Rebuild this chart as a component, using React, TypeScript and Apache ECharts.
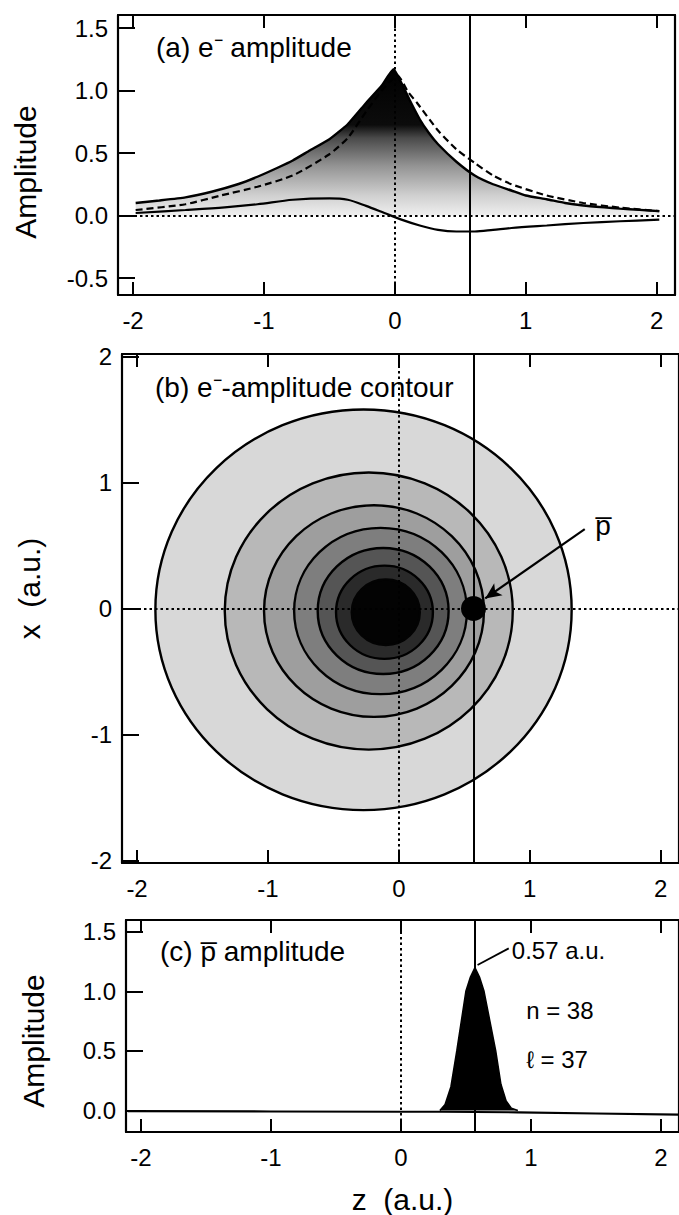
import React, { useEffect, useRef } from "react";
import * as echarts from "echarts";

// ---------- data ----------
const zTicks = [-2, -1, 0, 1, 2];
const ampTicksA = [-0.5, 0, 0.5, 1.0, 1.5];
const xTicksB = [-2, -1, 0, 1, 2];
const ampTicksC = [0, 0.5, 1.0, 1.5];

// panel (a): total e- amplitude envelope (solid, shaded)
const zEnv = [-1.98, -1.8, -1.6, -1.4, -1.2, -1.05, -0.9, -0.78, -0.65, -0.5, -0.36, -0.22, -0.1, -0.01, 0.05, 0.11, 0.19, 0.26, 0.33, 0.47, 0.61, 0.75, 0.89, 1.0, 1.16, 1.3, 1.44, 1.6, 1.72, 1.87, 2.02];
const vEnv = [0.10, 0.12, 0.145, 0.19, 0.25, 0.31, 0.38, 0.44, 0.52, 0.61, 0.73, 0.90, 1.04, 1.17, 1.06, 0.93, 0.77, 0.66, 0.57, 0.43, 0.32, 0.25, 0.20, 0.16, 0.13, 0.10, 0.08, 0.065, 0.055, 0.045, 0.035];
// panel (a): dashed curve
const zDash = [-1.98, -1.6, -1.33, -1.05, -0.78, -0.5, -0.36, -0.22, -0.1, 0.02, 0.1, 0.17, 0.33, 0.47, 0.61, 0.75, 0.89, 1.16, 1.44, 1.72, 2.02];
const vDash = [0.044, 0.09, 0.16, 0.23, 0.32, 0.49, 0.62, 0.83, 1.0, 1.12, 0.99, 0.90, 0.68, 0.53, 0.42, 0.32, 0.25, 0.16, 0.10, 0.063, 0.035];
// panel (a): lower solid curve
const zLow = [-1.98, -1.6, -1.3, -1.05, -0.78, -0.5, -0.36, -0.22, -0.08, 0.05, 0.19, 0.33, 0.47, 0.61, 0.75, 0.89, 1.16, 1.44, 1.72, 2.02];
const vLow = [0.02, 0.044, 0.065, 0.09, 0.126, 0.137, 0.126, 0.077, 0.02, -0.033, -0.08, -0.115, -0.128, -0.128, -0.115, -0.10, -0.08, -0.06, -0.046, -0.033];

// panel (b): contour rings (centre z, centre x, radius), outer to inner
const ringZ = [-0.27, -0.23, -0.19, -0.14, -0.12, -0.11, -0.1];
const ringX = [-0.01, -0.02, -0.02, -0.02, -0.02, -0.03, -0.03];
const ringR = [1.59, 1.10, 0.84, 0.66, 0.50, 0.37, 0.26];
const ringShade = ["#d8d8d8", "#b8b8b8", "#9e9e9e", "#7e7e7e", "#555555", "#2a2a2a", "#030303"];
const pbarPos = [0.57, 0];
const pbarLabelPos = [1.56, 0.66];
const arrowFrom = [1.42, 0.63];
const arrowTo = [0.66, 0.08];

// panel (c): pbar amplitude (baseline + peak)
const zBase = [-2.1, -1.0, 0.0, 0.3, 0.9, 1.5, 2.14];
const vBase = [-0.005, -0.008, -0.01, -0.01, -0.015, -0.025, -0.035];
const zPeak = [0.3, 0.34, 0.385, 0.43, 0.465, 0.5, 0.535, 0.57, 0.605, 0.64, 0.685, 0.73, 0.77, 0.81, 0.85, 0.9];
const vPeak = [0.0, 0.05, 0.2, 0.5, 0.75, 1.0, 1.12, 1.2, 1.12, 1.0, 0.75, 0.5, 0.22, 0.08, 0.02, 0.0];
const peakZ = 0.57;
const leaderFrom = [0.59, 1.22];
const leaderTo = [0.83, 1.36];
const annoTextC = ["0.57 a.u.", "n = 38", "\u2113 = 37"];
const annoZC = [0.85, 0.96, 0.96];
const annoYC = [1.34, 0.84, 0.43];

// ---------- style helpers ----------
const FONT = "'Liberation Sans', Arial, Helvetica, sans-serif";
const X_MIN = -2.115;
const X_MAX = 2.14;
const BLACK = "#000";

function xAxes(gridIndex: number, name?: string) {
  const base = {
    gridIndex,
    type: "value",
    min: X_MIN,
    max: X_MAX,
    splitLine: { show: false },
    axisLine: { show: true, onZero: false, lineStyle: { color: BLACK, width: 2.2 } },
    axisTick: { show: true, inside: true, length: 13, customValues: zTicks, lineStyle: { color: BLACK, width: 2 } },
  };
  return [
    {
      ...base,
      position: "bottom",
      name: name || "",
      nameLocation: "middle",
      nameGap: 52,
      nameTextStyle: { fontSize: 30, color: BLACK, fontFamily: FONT },
      axisLabel: { show: true, customValues: zTicks, margin: 13, fontSize: 24, color: BLACK, fontFamily: FONT, formatter: (v: number) => String(v) },
    },
    { ...base, position: "top", axisLabel: { show: false } },
  ];
}

function yAxes(gridIndex: number, min: number, max: number, ticks: number[], name: string, digits: number, pad: number[]) {
  return [
    {
      gridIndex,
      type: "value",
      min,
      max,
      position: "left",
      name,
      nameLocation: "middle",
      nameGap: 78,
      nameRotate: 90,
      nameTextStyle: { fontSize: 30, color: BLACK, fontFamily: FONT, padding: pad },
      splitLine: { show: false },
      axisLine: { show: true, onZero: false, lineStyle: { color: BLACK, width: 2.2 } },
      axisTick: { show: true, inside: true, length: 17, customValues: ticks, lineStyle: { color: BLACK, width: 2 } },
      axisLabel: { show: true, customValues: ticks, margin: 10, fontSize: 24, color: BLACK, fontFamily: FONT, formatter: (v: number) => v.toFixed(digits) },
    },
    {
      gridIndex,
      type: "value",
      min,
      max,
      position: "right",
      splitLine: { show: false },
      axisLine: { show: true, onZero: false, lineStyle: { color: BLACK, width: 2.2 } },
      axisTick: { show: false },
      axisLabel: { show: false },
    },
  ];
}

const dotted = { color: BLACK, width: 2, type: [2.5, 3] as any };
const solid = { color: BLACK, width: 2, type: "solid" };

// axis indices: each grid has a bottom+top x axis and a left+right y axis
const AX_A = 0, AX_B = 2, AX_C = 4;

export default function App() {
  const ref = useRef<HTMLDivElement>(null);

  useEffect(() => {
    if (!ref.current) return;
    const chart = echarts.init(ref.current, undefined, { renderer: "svg" });

    const pair = (zs: number[], vs: number[]) => zs.map((z, i) => [z, vs[i]]);

    const titleStyle = { fontSize: 28, fontWeight: "normal", color: BLACK, fontFamily: FONT };
    const annoLabel = { show: true, color: BLACK, fontFamily: FONT, opacity: 1 };

    const option: any = {
      animation: false,
      backgroundColor: "#fff",
      textStyle: { fontFamily: FONT },
      title: [
        { text: "(a) e\u207B amplitude", left: 156, top: 33, padding: 0, textStyle: titleStyle },
        { text: "(b) e\u207B-amplitude contour", left: 155, top: 373, padding: 0, textStyle: titleStyle },
        { text: "(c) p\u0305 amplitude", left: 160, top: 937, padding: 0, textStyle: titleStyle },
      ],
      grid: [
        { left: 118, top: 15, width: 557, height: 280 },
        { left: 122, top: 354, width: 557, height: 509 },
        { left: 126, top: 920, width: 555, height: 217 },
      ],
      xAxis: [...xAxes(0), ...xAxes(1), ...xAxes(2, "z  (a.u.)")],
      yAxis: [
        ...yAxes(0, -0.636, 1.604, ampTicksA, "Amplitude", 1, [0, 34, 0, 0]),
        ...yAxes(1, -2.02, 2.02, xTicksB, "x  (a.u.)", 0, [0, 0, 0, 40]),
        ...yAxes(2, -0.18, 1.598, ampTicksC, "Amplitude", 1, [0, 30, 0, 0]),
      ],
      series: [
        // ---- panel (a) ----
        {
          type: "line",
          xAxisIndex: AX_A,
          yAxisIndex: AX_A,
          data: pair(zEnv, vEnv),
          showSymbol: false,
          smooth: 0.15,
          silent: true,
          lineStyle: { color: BLACK, width: 2.4 },
          areaStyle: {
            opacity: 1,
            color: new echarts.graphic.LinearGradient(0, 0, 0, 1, [
              { offset: 0, color: "#000" },
              { offset: 0.38, color: "#0c0c0c" },
              { offset: 0.47, color: "#4a4a4a" },
              { offset: 0.66, color: "#939393" },
              { offset: 0.86, color: "#cfcfcf" },
              { offset: 1, color: "#efefef" },
            ]),
          },
          z: 2,
        },
        {
          type: "line",
          xAxisIndex: AX_A,
          yAxisIndex: AX_A,
          data: pair(zDash, vDash),
          showSymbol: false,
          smooth: 0.2,
          silent: true,
          lineStyle: { color: BLACK, width: 2.2, type: [7, 4] },
          z: 3,
        },
        {
          type: "line",
          xAxisIndex: AX_A,
          yAxisIndex: AX_A,
          data: pair(zLow, vLow),
          showSymbol: false,
          smooth: 0.3,
          silent: true,
          lineStyle: { color: BLACK, width: 2.2 },
          z: 4,
          markLine: {
            silent: true,
            symbol: "none",
            label: { show: false },
            data: [
              { xAxis: 0, lineStyle: dotted },
              { xAxis: peakZ, lineStyle: solid },
              { yAxis: 0, lineStyle: dotted },
            ],
          },
        },
        // ---- panel (b) ----
        {
          type: "custom",
          xAxisIndex: AX_B,
          yAxisIndex: AX_B,
          silent: true,
          encode: { x: 0, y: 1 },
          data: ringZ.map((z, i) => [z, ringX[i], ringR[i], i]),
          renderItem: (params: any, api: any) => {
            const i = api.value(3);
            const c = api.coord([api.value(0), api.value(1)]);
            const s = api.size([api.value(2), api.value(2)]);
            const last = i === ringZ.length - 1;
            return {
              type: "ellipse",
              shape: { cx: c[0], cy: c[1], rx: s[0], ry: s[1] },
              style: { fill: ringShade[i], stroke: last ? ringShade[i] : "#000", lineWidth: 2.4 },
            };
          },
          z: 2,
        },
        {
          type: "scatter",
          xAxisIndex: AX_B,
          yAxisIndex: AX_B,
          data: [pbarPos],
          symbolSize: 25,
          silent: true,
          itemStyle: { color: BLACK, opacity: 1 },
          z: 6,
          markLine: {
            silent: true,
            symbol: "none",
            label: { show: false },
            data: [
              { xAxis: 0, lineStyle: dotted },
              { xAxis: peakZ, lineStyle: solid },
              { yAxis: 0, lineStyle: dotted },
            ],
          },
        },
        {
          type: "scatter",
          xAxisIndex: AX_B,
          yAxisIndex: AX_B,
          data: [pbarLabelPos],
          symbolSize: 1,
          silent: true,
          itemStyle: { color: "#fff", opacity: 0 },
          label: { ...annoLabel, position: "inside", formatter: "p\u0305", fontSize: 28 },
          z: 7,
          markLine: {
            silent: true,
            symbol: ["none", "arrow"],
            symbolSize: [11, 16],
            label: { show: false },
            lineStyle: { color: BLACK, width: 2.2, type: "solid", opacity: 1 },
            data: [[{ coord: arrowFrom }, { coord: arrowTo }]],
          },
        },
        // ---- panel (c) ----
        {
          type: "line",
          xAxisIndex: AX_C,
          yAxisIndex: AX_C,
          data: pair(zBase, vBase),
          showSymbol: false,
          silent: true,
          lineStyle: { color: BLACK, width: 2.2 },
          z: 3,
          markLine: {
            silent: true,
            symbol: "none",
            label: { show: false },
            data: [
              { xAxis: 0, lineStyle: dotted },
              { xAxis: peakZ, lineStyle: solid },
              [
                { coord: leaderFrom, lineStyle: { color: BLACK, width: 1.8, type: "solid" } },
                { coord: leaderTo },
              ],
            ],
          },
        },
        {
          type: "line",
          xAxisIndex: AX_C,
          yAxisIndex: AX_C,
          data: pair(zPeak, vPeak),
          showSymbol: false,
          silent: true,
          lineStyle: { color: BLACK, width: 1.5 },
          areaStyle: { color: BLACK, opacity: 1 },
          z: 4,
        },
        {
          type: "scatter",
          xAxisIndex: AX_C,
          yAxisIndex: AX_C,
          data: annoTextC.map((t, i) => ({ value: [annoZC[i], annoYC[i]], name: t })),
          symbolSize: 1,
          silent: true,
          itemStyle: { color: "#fff", opacity: 0 },
          label: { ...annoLabel, position: "right", distance: 0, formatter: (p: any) => p.name, fontSize: 24 },
          z: 7,
        },
      ],
    };

    chart.setOption(option);
    return () => chart.dispose();
  }, []);

  return (
    <div
      ref={ref}
      style={{ position: "fixed", left: 0, top: 0, width: 679, height: 1215, background: "#fff" }}
    />
  );
}
